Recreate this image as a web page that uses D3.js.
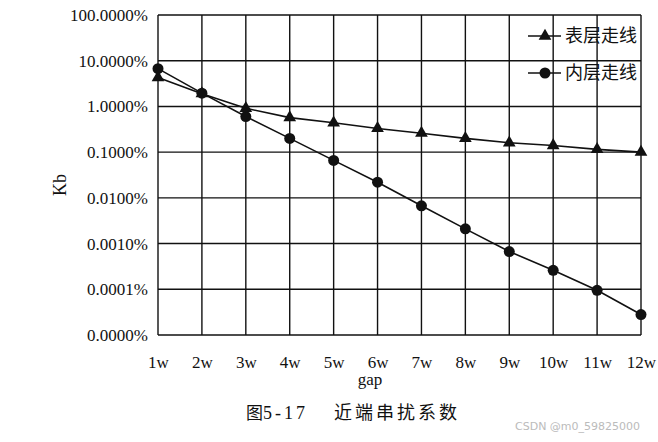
<!DOCTYPE html>
<html><head><meta charset="utf-8">
<script src="https://cdn.jsdelivr.net/npm/d3@7"></script>
<style>body{margin:0;background:#fff}</style>
</head><body>
<svg id="c" width="658" height="442"></svg>
<script>
const categories = ["1w","2w","3w","4w","5w","6w","7w","8w","9w","10w","11w","12w"];
// values in percent
const surfaceValues = [4.3, 1.9, 0.91, 0.57, 0.44, 0.33, 0.26, 0.20, 0.16, 0.14, 0.115, 0.10];
const innerValues = [6.7, 1.95, 0.60, 0.20, 0.066, 0.022, 0.0067, 0.0021, 0.00067, 0.00026, 0.000095, 0.000028];
const yTicks = [100, 10, 1, 0.1, 0.01, 0.001, 0.0001, 0.00001];
const seriesNames = ["表层走线", "内层走线"];

const svg = d3.select("#c");
const m = {left:158, right:641, top:15, bottom:335};
const x = d3.scalePoint().domain(categories).range([m.left, m.right]).padding(0);
const y = d3.scaleLog().domain([0.00001, 100]).range([m.bottom, m.top]);
const serif = "'Liberation Serif','DejaVu Serif',serif";
const cjk = "'Noto Sans CJK SC',sans-serif";

// grid
const g = svg.append("g").attr("stroke", "#111").attr("stroke-width", 1.4);
yTicks.forEach(t => g.append("line").attr("x1", m.left).attr("x2", m.right).attr("y1", y(t)).attr("y2", y(t)));
categories.forEach(c => g.append("line").attr("x1", x(c)).attr("x2", x(c)).attr("y1", m.top).attr("y2", m.bottom));

// axes
const yAxis = d3.axisLeft(y).tickValues(yTicks).tickSize(0).tickPadding(10)
  .tickFormat(d => (d < 0.0001 ? 0 : d).toFixed(4) + "%");
svg.append("g").attr("transform", `translate(${m.left},0)`).call(yAxis)
  .call(s => s.select(".domain").remove())
  .selectAll("text").attr("font-family", serif).attr("font-size", 17).attr("fill", "#111");
const xAxis = d3.axisBottom(x).tickSize(0).tickPadding(21);
svg.append("g").attr("transform", `translate(0,${m.bottom})`).call(xAxis)
  .call(s => s.select(".domain").remove())
  .selectAll("text").attr("font-family", serif).attr("font-size", 17).attr("fill", "#111");

svg.append("text").attr("x", 370).attr("y", 385).attr("text-anchor", "middle")
  .attr("font-family", serif).attr("font-size", 17).attr("fill", "#111").text("gap");
svg.append("text").attr("transform", "translate(66,185) rotate(-90)").attr("text-anchor", "middle")
  .attr("font-family", serif).attr("font-size", 18).attr("fill", "#111").text("Kb");

// lines
const line = d3.line().x((d, i) => x(categories[i])).y(d => y(d));
[surfaceValues, innerValues].forEach(vals => {
  svg.append("path").attr("d", line(vals)).attr("fill", "none").attr("stroke", "#111").attr("stroke-width", 1.6);
});
const tri = d3.symbol().type(d3.symbolTriangle).size(70);
svg.append("g").selectAll("path").data(surfaceValues).join("path")
  .attr("d", tri).attr("transform", (d, i) => `translate(${x(categories[i])},${y(d)})`).attr("fill", "#111");
svg.append("g").selectAll("circle").data(innerValues).join("circle")
  .attr("cx", (d, i) => x(categories[i])).attr("cy", d => y(d)).attr("r", 5.5).attr("fill", "#111");

// legend
const lg = svg.append("g");
[0, 1].forEach(i => {
  const ly = 36 + i * 37;
  lg.append("line").attr("x1", 528).attr("x2", 561).attr("y1", ly).attr("y2", ly).attr("stroke", "#111").attr("stroke-width", 1.6);
  if (i === 0) lg.append("path").attr("d", tri).attr("transform", `translate(545,${ly})`).attr("fill", "#111");
  else lg.append("circle").attr("cx", 545).attr("cy", ly).attr("r", 5.5).attr("fill", "#111");
  lg.append("text").attr("x", 565).attr("y", ly + 6).attr("font-family", cjk)
    .attr("font-size", 18).attr("fill", "#111").text(seriesNames[i]);
});

// caption
const cap = svg.append("g").attr("fill", "#111");
cap.append("text").attr("x", 246).attr("y", 419).attr("font-family", cjk).attr("font-size", 17).text("图");
cap.append("text").attr("x", 263).attr("y", 419).attr("font-family", serif).attr("font-size", 18).attr("letter-spacing", 3).text("5-17");
cap.append("text").attr("x", 334).attr("y", 419).attr("font-family", cjk).attr("font-size", 18)
  .attr("letter-spacing", 3).text("近端串扰系数");
svg.append("text").attr("x", 515).attr("y", 430).attr("font-family", "'DejaVu Sans',sans-serif")
  .attr("font-size", 11).attr("fill", "#bbb").text("CSDN @m0_59825000");
</script>
</body></html>
